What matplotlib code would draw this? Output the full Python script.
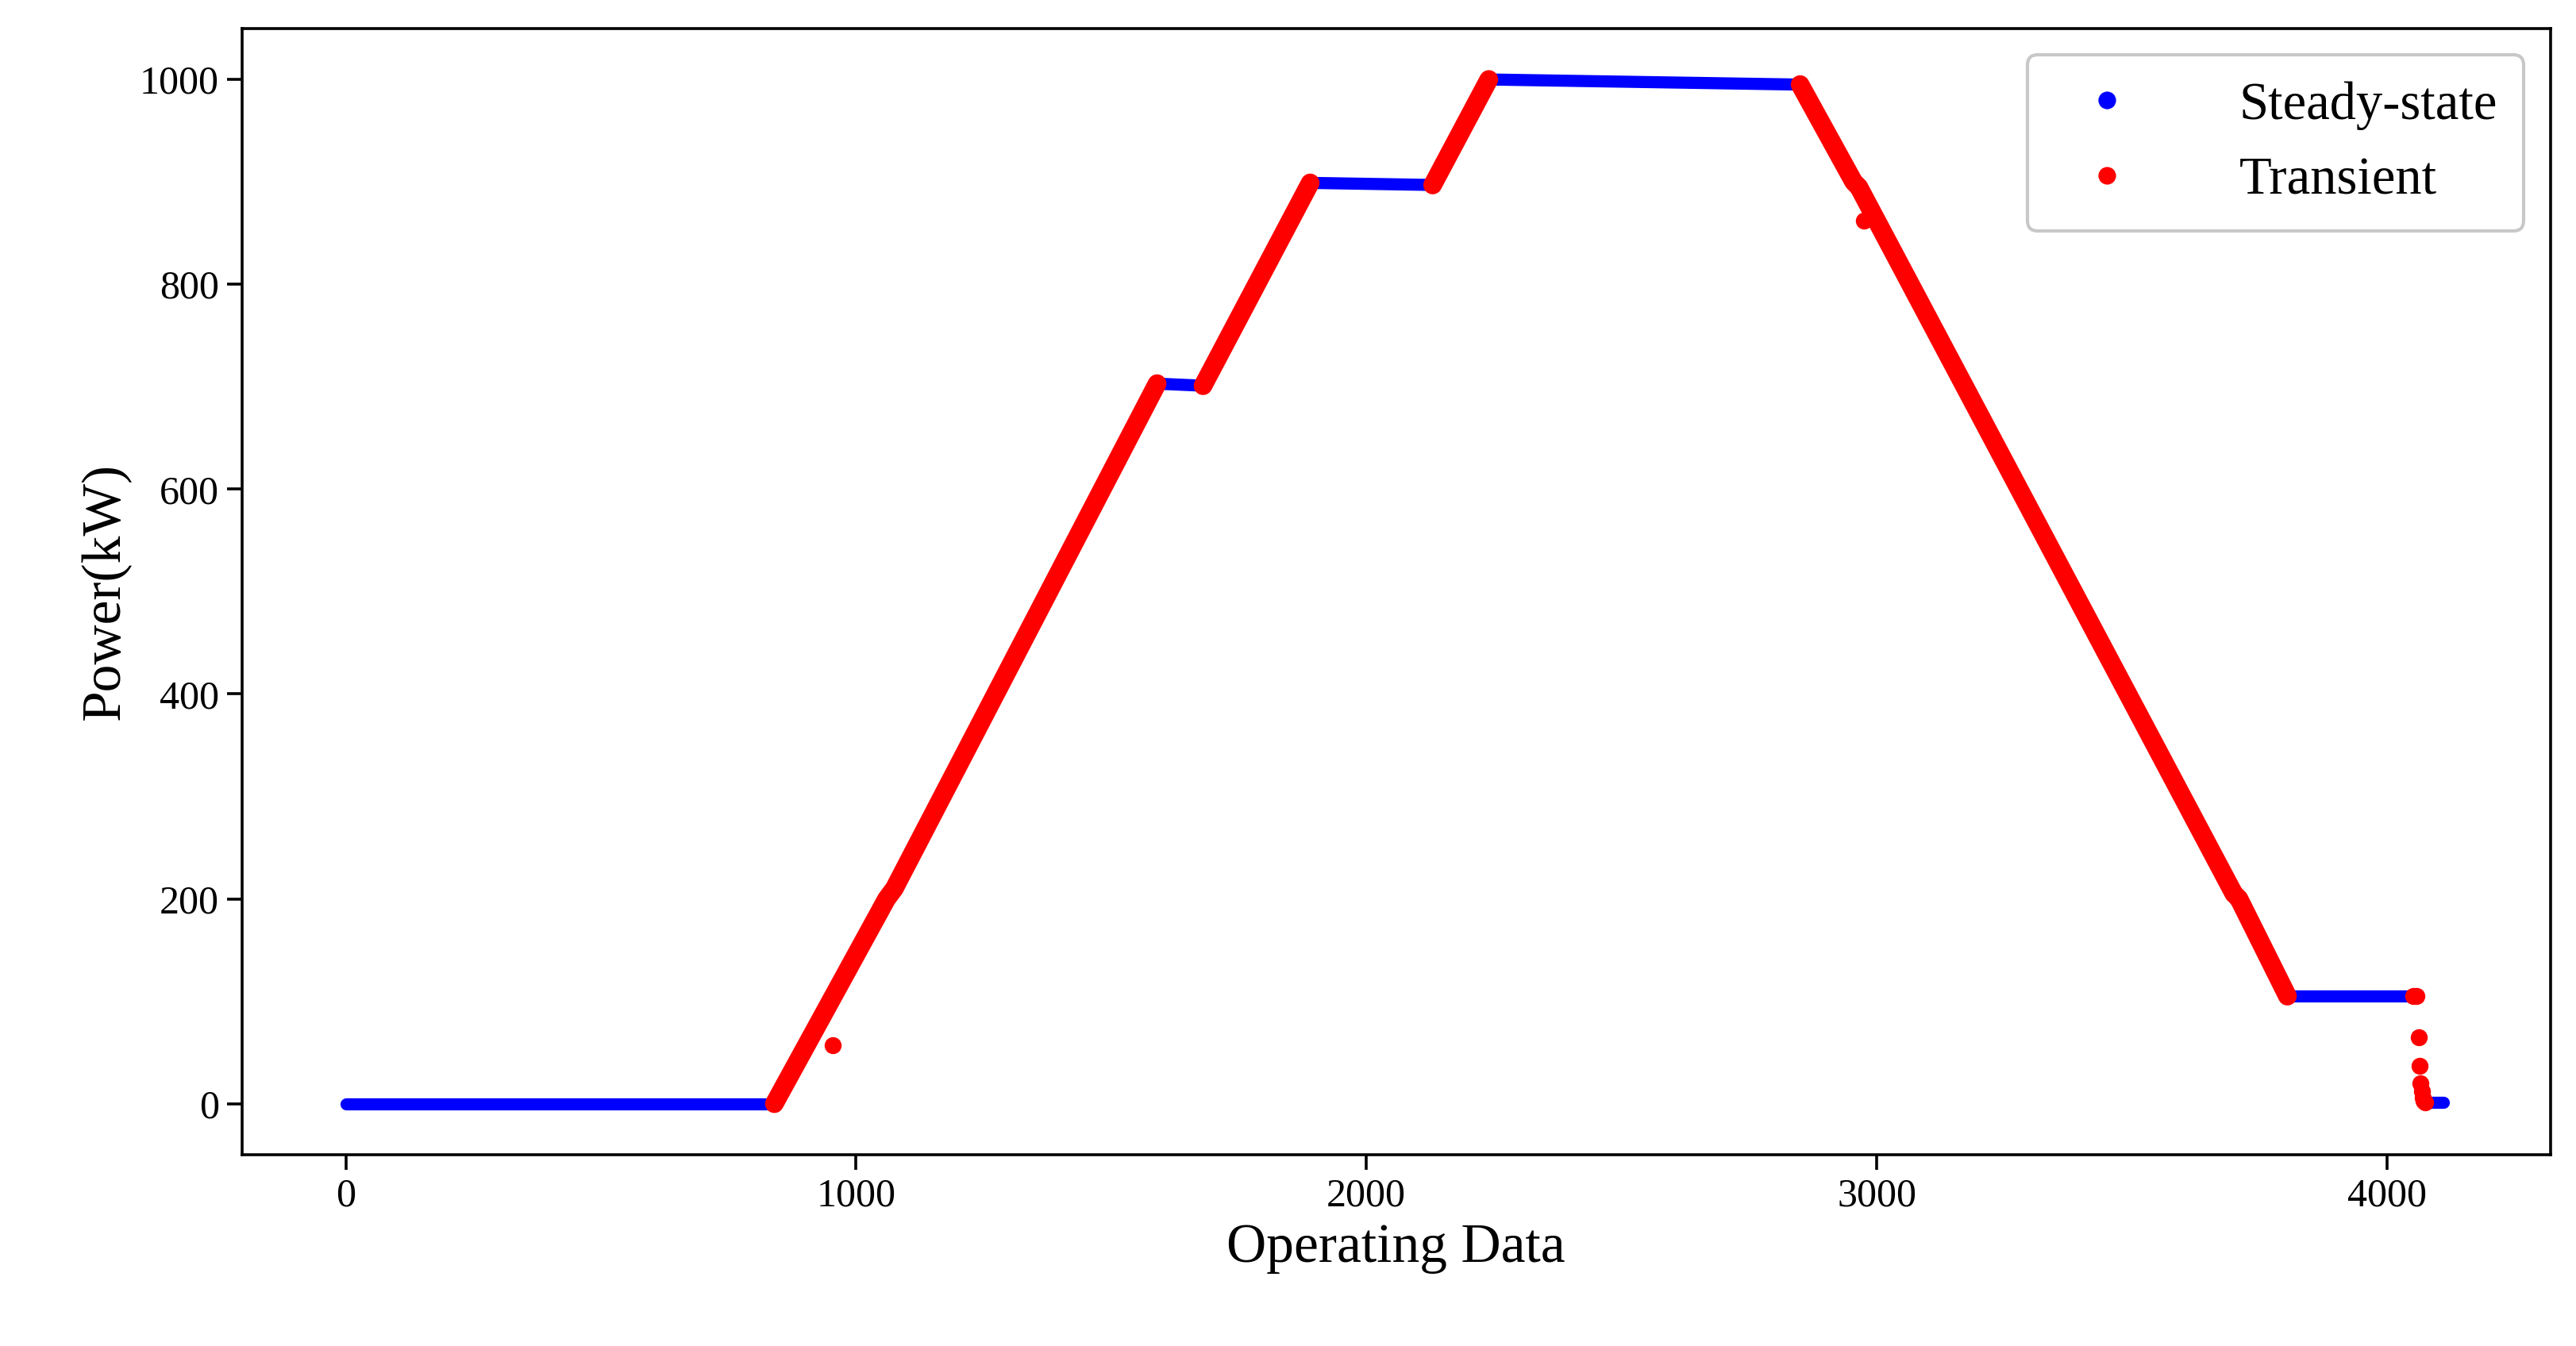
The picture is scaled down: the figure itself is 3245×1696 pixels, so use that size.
import matplotlib.pyplot as plt
from matplotlib.lines import Line2D

plt.rcParams['font.family'] = ['Liberation Serif', 'DejaVu Serif']

# steady-state plateaus: (x start, x end, y start, y end)
steady_x = [(0, 840), (1590, 1680), (1895, 2130), (2240, 2850), (3805, 4050), (4078, 4110)]
steady_y = [(0, 0), (703, 701), (899, 897), (1000, 995), (105, 105), (1, 1)]

# transient ramps as breakpoints
trans_x = [[840, 1060, 1075, 1590], [1680, 1890], [2130, 2240],
           [2850, 2955, 2965, 3700, 3710, 3805]]
trans_y = [[0, 200, 210, 703], [701, 899], [897, 1000],
           [995, 900, 895, 205, 200, 105]]

# isolated transient points
pts_x = [955, 2975, 4052, 4058, 4062, 4064, 4066, 4068, 4070, 4072, 4075]
pts_y = [57, 862, 105, 105, 65, 37, 20, 12, 6, 3, 1]

fig, ax = plt.subplots(figsize=(16.225, 8.48), dpi=200)
fig.subplots_adjust(left=0.094, right=0.99, top=0.979, bottom=0.142)

for xs, ys in zip(steady_x, steady_y):
    ax.plot(xs, ys, color='blue', lw=5.5, solid_capstyle='round', zorder=2)
for xs, ys in zip(trans_x, trans_y):
    ax.plot(xs, ys, color='red', lw=8.5, solid_capstyle='round', zorder=3)
ax.scatter(pts_x, pts_y, color='red', s=45, zorder=3)

ax.set_xlim(-203, 4320)
ax.set_ylim(-50, 1050)
ax.set_xticks([0, 1000, 2000, 3000, 4000])
ax.set_yticks([0, 200, 400, 600, 800, 1000])
ax.tick_params(labelsize=18, length=7, width=1.3)
for s in ax.spines.values():
    s.set_linewidth(1.3)
ax.set_xlabel('Operating Data', fontsize=25)
ax.set_ylabel('Power(kW)', fontsize=25)

handles = [Line2D([], [], ls='', marker='o', color='blue', markersize=7),
           Line2D([], [], ls='', marker='o', color='red', markersize=7)]
leg = ax.legend(handles, ['Steady-state', 'Transient'], loc='upper right', fontsize=24,
                handletextpad=1.5, borderpad=0.5, labelspacing=0.5, fancybox=True)
leg.get_frame().set_edgecolor('#bbbbbb')
leg.get_frame().set_linewidth(1.5)

fig.savefig('out.png')
